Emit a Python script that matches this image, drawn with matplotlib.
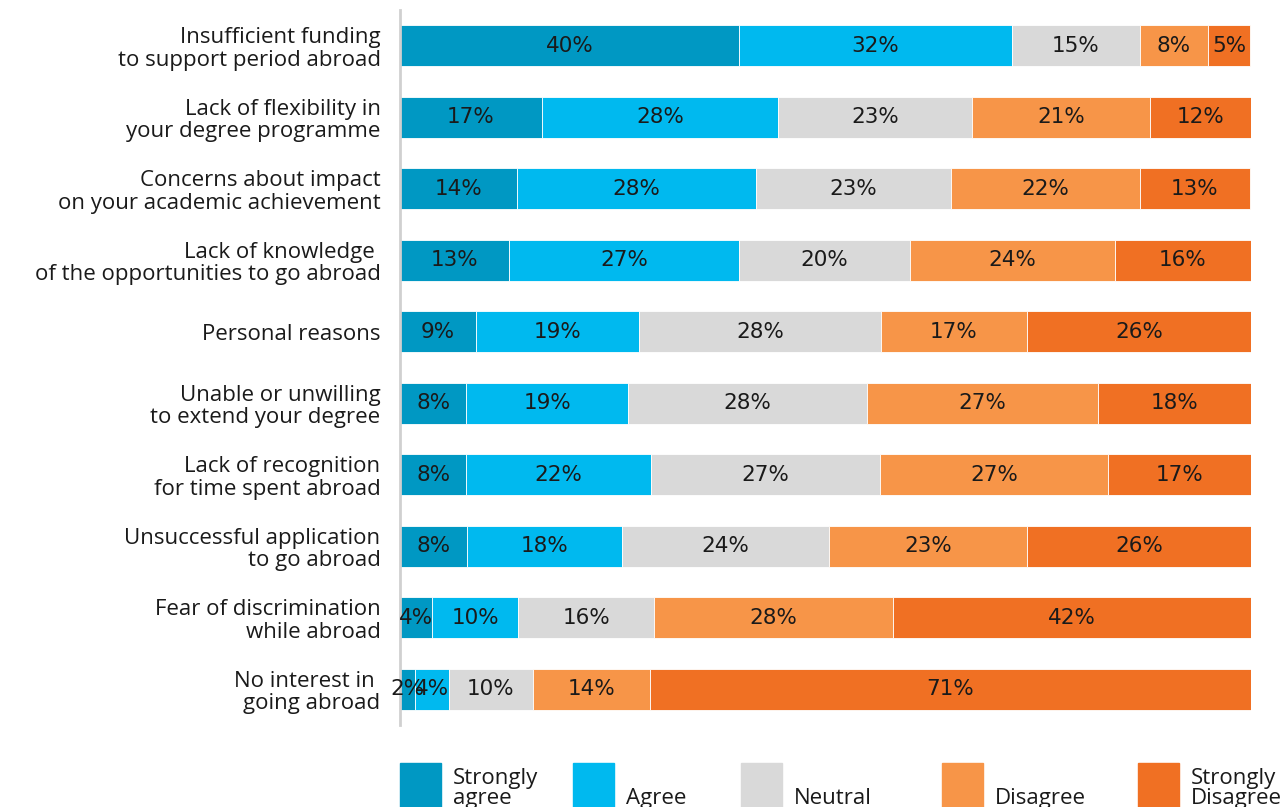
import numpy as np
import matplotlib
matplotlib.use('Agg')
import matplotlib.pyplot as plt
from matplotlib.patches import Rectangle
from matplotlib import font_manager

categories = [
    'Insufficient funding\nto support period abroad',
    'Lack of flexibility in\nyour degree programme',
    'Concerns about impact\non your academic achievement',
    'Lack of knowledge \nof the opportunities to go abroad',
    'Personal reasons',
    'Unable or unwilling\nto extend your degree',
    'Lack of recognition\nfor time spent abroad',
    'Unsuccessful application\nto go abroad',
    'Fear of discrimination\nwhile abroad',
    'No interest in \ngoing abroad',
]
series_names = ['Strongly\nagree', 'Agree', 'Neutral', 'Disagree', 'Strongly\nDisagree']
strongly_agree = [39.8, 16.7, 13.7, 12.8, 8.9, 7.8, 7.8, 7.9, 3.8, 1.8]
agree = [32.1, 27.7, 28.1, 27.0, 19.2, 19.0, 21.7, 18.2, 10.1, 3.9]
neutral = [15.0, 22.8, 23.0, 20.1, 28.4, 28.1, 26.9, 24.3, 16.0, 9.9]
disagree = [8.1, 20.9, 22.1, 24.1, 17.2, 27.1, 26.8, 23.3, 28.0, 13.8]
strongly_disagree = [4.9, 11.9, 13.0, 16.0, 26.3, 18.0, 16.8, 26.3, 42.2, 70.6]
colors = ['#0098c3', '#00b9ef', '#d9d9d9', '#f79548', '#f07023']

installed = {f.name for f in font_manager.fontManager.ttflist}
label_font = 'Open Sans' if 'Open Sans' in installed else 'DejaVu Sans'
num_font = 'DejaVu Sans'

fig = plt.figure(figsize=(12.87, 8.07), dpi=100, facecolor='white')
ax = fig.add_axes([400 / 1287, 1 - 725 / 807, 851 / 1287, 715 / 807])

data = np.array([strongly_agree, agree, neutral, disagree, strongly_disagree])
y = np.arange(len(categories))
left = np.zeros(len(categories))
for vals, col in zip(data, colors):
    ax.barh(y, vals, left=left, height=0.57, color=col, edgecolor='white', linewidth=0.6)
    for yi, (l, v) in enumerate(zip(left, vals)):
        ax.text(l + v / 2, yi, f'{v:.0f}%', ha='center', va='center',
                fontsize=15.5, family=num_font, color='#1a1a1a')
    left = left + vals

ax.set_xlim(0, 100)
ax.set_ylim(9.5, -0.5)
ax.set_xticks([])
ax.set_yticks(y)
ax.set_yticklabels(categories, fontsize=16, family=label_font, color='#1a1a1a',
                   linespacing=1.08)
ax.tick_params(axis='y', length=0, pad=14)
for s in ['top', 'right', 'bottom']:
    ax.spines[s].set_visible(False)
ax.spines['left'].set_color('#d0d0d0')
ax.spines['left'].set_linewidth(2)

# legend drawn by hand along the bottom
leg_x = [400, 573, 741, 942, 1138]
for xp, name, col in zip(leg_x, series_names, colors):
    fig.patches.append(Rectangle((xp / 1287, 0), 41 / 1287, 44 / 807,
                                 transform=fig.transFigure, color=col))
    fig.text((xp + 53) / 1287, 1 - 804 / 807, name, ha='left', va='baseline',
             fontsize=16, family=label_font, color='#1a1a1a', linespacing=0.95)

fig.savefig('out.png', dpi=100, facecolor='white')
